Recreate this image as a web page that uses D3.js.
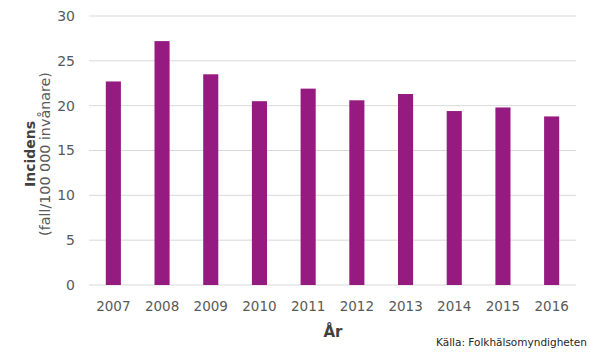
<!DOCTYPE html>
<html><head><meta charset="utf-8">
<script src="https://cdn.jsdelivr.net/npm/d3@7"></script>
<style>body{margin:0;background:#fff}svg{display:block}</style>
</head><body>
<svg id="c" width="590" height="354"></svg>
<script>
const years = ["2007","2008","2009","2010","2011","2012","2013","2014","2015","2016"];
const incidence = [22.7, 27.2, 23.5, 20.5, 21.9, 20.6, 21.3, 19.4, 19.8, 18.8];
const yTicks = [0,5,10,15,20,25,30];

const svg = d3.select("#c");
const m = {l:89, r:576, t:16, b:285};
const x = d3.scaleBand().domain(years).range([m.l, m.r]).paddingInner(0.69).paddingOuter(0.345);
const y = d3.scaleLinear().domain([0,30]).range([m.b, m.t]);
const font = "DejaVu Sans, Verdana, sans-serif";

// gridlines
svg.append("g").selectAll("line").data(yTicks).join("line")
  .attr("x1", m.l).attr("x2", m.r)
  .attr("y1", d=>y(d)).attr("y2", d=>y(d))
  .attr("stroke", "#d9d9d9").attr("stroke-width", 1);

// y axis labels
const ya = svg.append("g").attr("transform", `translate(${m.l},0)`)
  .call(d3.axisLeft(y).tickValues(yTicks).tickSize(0).tickPadding(14));
ya.select(".domain").remove();
ya.selectAll("text").attr("font-family", font).attr("font-size", 14).attr("fill", "#595959");

// x axis labels
const xa = svg.append("g").attr("transform", `translate(0,${m.b})`)
  .call(d3.axisBottom(x).tickSize(0).tickPadding(16));
xa.select(".domain").remove();
xa.selectAll("text").attr("font-family", font).attr("font-size", 13.5).attr("fill", "#595959");

// bars
svg.append("g").selectAll("rect").data(years).join("rect")
  .attr("x", d=>x(d)).attr("width", x.bandwidth())
  .attr("y", (d,i)=>y(incidence[i])).attr("height", (d,i)=>y(0)-y(incidence[i]))
  .attr("fill", "#951b81");

// titles
svg.append("text").attr("x", 333).attr("y", 337).attr("text-anchor","middle")
  .attr("font-family", font).attr("font-size", 15).attr("font-weight","bold").attr("fill","#404040").text("År");

const cy = 154;
svg.append("text").attr("transform", `translate(35,${cy}) rotate(-90)`).attr("text-anchor","middle")
  .attr("font-family", font).attr("font-size", 14).attr("font-weight","bold").attr("fill","#404040").text("Incidens");
svg.append("text").attr("transform", `translate(50,${cy}) rotate(-90)`).attr("text-anchor","middle")
  .attr("font-family", font).attr("font-size", 14.3).attr("fill","#595959").text("(fall/100 000 invånare)");

svg.append("text").attr("x", 587).attr("y", 346).attr("text-anchor","end")
  .attr("font-family", font).attr("font-size", 10.5).attr("fill","#262626").text("Källa:  Folkhälsomyndigheten");
</script>
</body></html>
